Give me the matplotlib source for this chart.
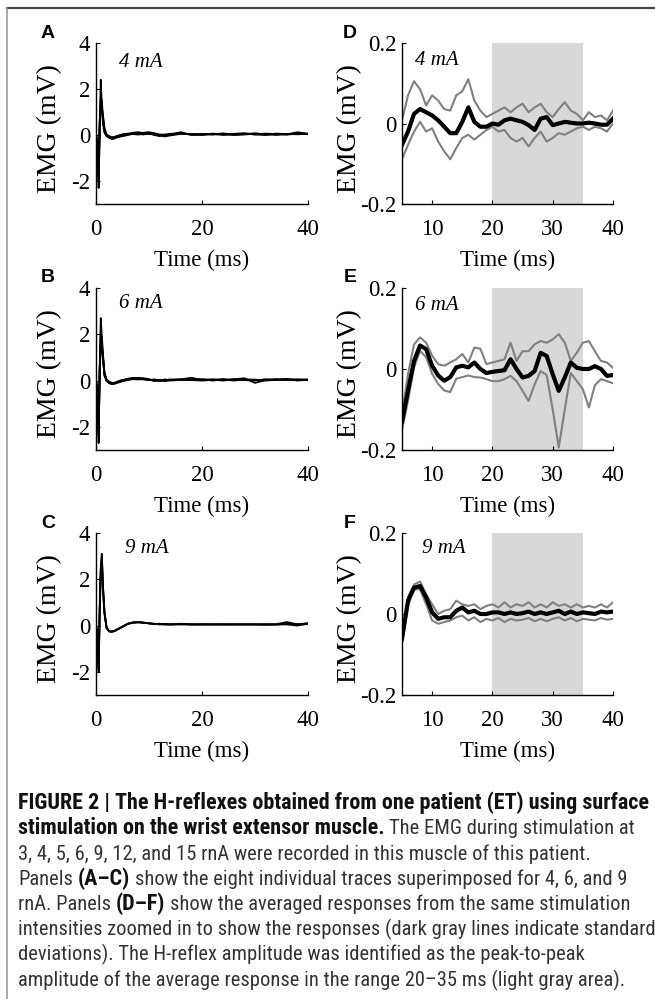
import matplotlib
matplotlib.use("Agg")
import matplotlib.pyplot as plt
from matplotlib import font_manager
from matplotlib.lines import Line2D

plt.rcParams['axes.unicode_minus'] = False

# individual traces (A-C), time in ms
t_left = [0, 0.3, 0.5, 0.7, 0.9, 1.1, 1.3, 1.6, 2.0, 2.5, 3, 3.5, 4, 5, 6, 7, 8, 9,
          10, 11, 12, 13, 14, 16, 18, 20, 22, 24, 26, 28, 30, 32, 34, 36, 38, 40]

traces_4mA = [
    [0, -0.6, -2.3, 0.4, 2.4, 1.3, 0.5, 0.1, -0.05, -0.12, -0.12, -0.1, -0.05, 0.0, 0.05, 0.08, 0.05, 0.02,
     0.08, 0.0, -0.05, 0.0, 0.02, 0.12, 0.0, 0.02, 0.05, 0.0, 0.05, 0.08, 0.02, 0.0, 0.05, 0.02, 0.12, 0.05],
    [0, -0.5, -2.0, 0.3, 1.6, 1.5, 0.8, 0.2, 0.0, -0.08, -0.15, -0.12, -0.08, -0.02, 0.02, 0.1, 0.12, 0.08,
     0.1, 0.05, -0.02, -0.06, -0.02, 0.05, 0.03, 0.0, 0.06, 0.03, 0.0, 0.02, 0.06, 0.04, 0.0, 0.05, 0.03, 0.06],
    [0, -0.4, -1.8, 0.5, 1.3, 1.2, 0.9, 0.3, 0.02, -0.05, -0.1, -0.08, -0.04, 0.03, 0.06, 0.04, 0.02, 0.06,
     0.04, 0.03, 0.0, -0.02, 0.04, 0.06, 0.04, 0.03, 0.02, 0.05, 0.03, 0.05, 0.03, 0.06, 0.04, 0.02, 0.05, 0.04],
    [0, -0.3, -1.5, 0.6, 1.4, 1.1, 0.7, 0.15, -0.03, -0.1, -0.18, -0.15, -0.1, -0.05, 0.0, 0.05, 0.06, 0.1,
     0.12, 0.08, 0.02, 0.02, 0.05, 0.08, 0.02, 0.05, 0.03, 0.07, 0.02, 0.04, 0.07, 0.02, 0.06, 0.04, 0.08, 0.04],
]
traces_6mA = [
    [0, -0.7, -2.7, 0.5, 2.7, 1.8, 0.9, 0.25, 0.0, -0.08, -0.12, -0.1, -0.06, 0.02, 0.08, 0.12, 0.1, 0.05,
     0.03, 0.0, 0.02, 0.0, 0.03, 0.05, 0.12, 0.02, 0.04, 0.0, 0.05, 0.1, -0.1, 0.02, 0.06, 0.04, 0.02, 0.03],
    [0, -0.5, -2.2, 0.4, 2.0, 1.9, 1.2, 0.3, 0.02, -0.1, -0.15, -0.12, -0.08, 0.0, 0.05, 0.08, 0.12, 0.08,
     0.04, 0.02, -0.03, 0.05, 0.0, 0.03, 0.05, 0.06, 0.0, 0.05, 0.03, 0.02, 0.0, 0.06, 0.02, 0.07, 0.0, 0.04],
    [0, -0.4, -1.9, 0.6, 1.5, 1.6, 1.0, 0.35, 0.05, -0.05, -0.1, -0.1, -0.05, 0.03, 0.04, 0.06, 0.05, 0.06,
     0.02, 0.05, 0.0, 0.02, 0.05, 0.02, 0.03, 0.04, 0.05, 0.02, 0.06, 0.03, 0.02, 0.03, 0.05, 0.02, 0.05, 0.02],
    [0, -0.6, -2.4, 0.3, 1.8, 1.4, 1.1, 0.2, -0.02, -0.12, -0.15, -0.14, -0.1, -0.03, 0.02, 0.1, 0.08, 0.1,
     0.06, -0.02, 0.03, -0.03, 0.02, 0.06, 0.02, 0.0, 0.03, 0.06, 0.0, 0.05, 0.04, 0.0, 0.03, 0.06, 0.04, 0.05],
]
traces_9mA = [
    [0, -0.5, -1.9, 0.8, 2.5, 3.1, 1.8, 0.6, -0.1, -0.25, -0.26, -0.24, -0.18, -0.05, 0.08, 0.14, 0.15, 0.12,
     0.1, 0.08, 0.05, 0.06, 0.05, 0.08, 0.05, 0.06, 0.05, 0.05, 0.04, 0.06, 0.05, 0.05, 0.06, 0.15, 0.05, 0.1],
    [0, -0.4, -1.7, 0.6, 2.3, 2.9, 1.6, 0.5, -0.12, -0.26, -0.27, -0.24, -0.17, -0.04, 0.08, 0.13, 0.14, 0.12,
     0.1, 0.06, 0.08, 0.04, 0.06, 0.06, 0.04, 0.05, 0.04, 0.06, 0.05, 0.04, 0.06, 0.03, 0.05, 0.05, 0.0, 0.08],
    [0, -0.45, -2.0, 0.7, 2.4, 3.0, 1.7, 0.55, -0.08, -0.24, -0.25, -0.22, -0.16, -0.06, 0.07, 0.12, 0.14, 0.13,
     0.09, 0.07, 0.06, 0.07, 0.04, 0.05, 0.06, 0.04, 0.06, 0.04, 0.06, 0.05, 0.04, 0.06, 0.04, 0.08, 0.06, 0.09],
]

# averaged responses (D-F) with +/- SD lines
t_right = list(range(5, 41))

mean_4mA = [-0.053, -0.02, 0.024, 0.036, 0.028, 0.02, 0.008, -0.008, -0.024, -0.024, 0.004, 0.04,
            0.004, -0.008, -0.008, 0.0, -0.003, 0.008, 0.012, 0.008, 0.004, -0.004, -0.016, 0.012,
            0.016, -0.004, 0.0, 0.004, 0.002, 0.0, 0.0, 0.002, 0.0, -0.003, -0.003, 0.012]
upper_4mA = [0.008, 0.07, 0.105, 0.085, 0.045, 0.07, 0.057, 0.036, 0.032, 0.07, 0.08, 0.11,
             0.057, 0.032, 0.016, 0.024, 0.032, 0.04, 0.028, 0.04, 0.049, 0.028, 0.04, 0.049,
             0.028, 0.016, 0.036, 0.053, 0.032, 0.024, 0.008, 0.028, 0.016, 0.02, 0.008, 0.032]
lower_4mA = [-0.089, -0.053, -0.02, 0.004, -0.02, -0.012, -0.045, -0.069, -0.089, -0.061, -0.036, -0.028,
             -0.04, -0.028, -0.016, -0.008, -0.02, -0.016, -0.036, -0.045, -0.036, -0.057, -0.036, -0.02,
             -0.045, -0.036, -0.024, -0.028, -0.02, -0.012, -0.008, -0.016, -0.008, -0.012, -0.02, 0.0]

mean_6mA = [-0.13, -0.053, 0.02, 0.058, 0.049, 0.008, -0.016, -0.029, -0.02, 0.004, 0.008, 0.004,
            0.016, 0.0, -0.01, -0.007, -0.005, -0.003, 0.024, 0.0, -0.021, -0.017, -0.005, 0.04,
            0.032, -0.013, -0.054, -0.021, 0.016, 0.003, 0.0, 0.0, 0.007, 0.0, -0.017, -0.015]
upper_6mA = [-0.11, -0.012, 0.061, 0.078, 0.065, 0.033, 0.012, 0.008, 0.016, 0.024, 0.037, 0.016,
             0.053, 0.05, 0.012, 0.016, 0.02, 0.024, 0.065, 0.02, 0.044, 0.044, 0.061, 0.069,
             0.065, 0.073, 0.086, 0.065, 0.02, 0.04, 0.065, 0.069, 0.044, 0.02, 0.016, 0.003]
lower_6mA = [-0.151, -0.078, 0.004, 0.045, 0.029, -0.012, -0.037, -0.053, -0.057, -0.024, -0.02, -0.016,
             -0.02, -0.021, -0.025, -0.03, -0.03, -0.025, -0.017, -0.03, -0.054, -0.079, -0.038, -0.005,
             -0.015, -0.1, -0.194, -0.1, -0.01, -0.03, -0.05, -0.095, -0.04, -0.025, -0.03, -0.035]

mean_9mA = [-0.061, 0.033, 0.065, 0.069, 0.041, 0.004, -0.012, -0.008, -0.008, 0.008, 0.016, 0.004,
            0.008, 0.0, 0.0, 0.004, 0.004, 0.0, 0.004, 0.0, 0.002, 0.006, 0.0, 0.004,
            0.0, 0.004, 0.008, 0.0, 0.006, 0.0, 0.004, 0.002, 0.0, 0.006, 0.004, 0.006]
upper_9mA = [-0.057, 0.041, 0.073, 0.08, 0.049, 0.024, 0.0, 0.008, 0.012, 0.033, 0.024, 0.02,
             0.024, 0.012, 0.02, 0.024, 0.016, 0.029, 0.016, 0.024, 0.02, 0.029, 0.016, 0.024,
             0.016, 0.029, 0.02, 0.024, 0.016, 0.024, 0.016, 0.02, 0.016, 0.024, 0.016, 0.029]
lower_9mA = [-0.073, 0.02, 0.061, 0.061, 0.024, -0.016, -0.024, -0.02, -0.016, -0.008, -0.004, -0.016,
             -0.008, -0.02, -0.012, -0.016, -0.01, -0.02, -0.012, -0.016, -0.014, -0.01, -0.018, -0.012,
             -0.018, -0.012, -0.008, -0.016, -0.01, -0.018, -0.012, -0.014, -0.016, -0.01, -0.014, -0.012]

window = (20, 35)
intensities = ["4 mA", "6 mA", "9 mA"]
letters_left = ["A", "B", "C"]
letters_right = ["D", "E", "F"]

caption = [
    [("FIGURE 2 | The H-reflexes obtained from one patient (ET) using surface", True)],
    [("stimulation on the wrist extensor muscle.", True), ("The EMG during stimulation at", False)],
    [("3, 4, 5, 6, 9, 12, and 15 rnA were recorded in this muscle of this patient.", False)],
    [("Panels", False), ("(A\u2013C)", True), ("show the eight individual traces superimposed for 4, 6, and 9", False)],
    [("rnA. Panels", False), ("(D\u2013F)", True), ("show the averaged responses from the same stimulation", False)],
    [("intensities zoomed in to show the responses (dark gray lines indicate standard", False)],
    [("deviations). The H-reflex amplitude was identified as the peak-to-peak", False)],
    [("amplitude of the average response in the range 20\u201335 ms (light gray area).", False)],
]

W, H = 655, 999
fig = plt.figure(figsize=(W / 100, H / 100), dpi=100)

serif = "Liberation Serif"
avail = {f.name for f in font_manager.fontManager.ttflist}
cap_font = next(n for n in ["Liberation Sans Narrow", "Roboto Condensed", "Liberation Sans", "DejaVu Sans"]
                if n in avail)


def box(left, top, right, bottom):
    return [left / W, 1 - bottom / H, (right - left) / W, (bottom - top) / H]


rows = [(43, 204), (288, 450), (533, 695)]


def style(ax, xticks, yticks, ylab_off):
    for s in ["top", "right"]:
        ax.spines[s].set_visible(False)
    for s in ["left", "bottom"]:
        ax.spines[s].set_linewidth(1.0)
    ax.set_xticks(xticks)
    ax.set_xticklabels(["%g" % v for v in xticks], fontfamily=serif, fontsize=16.5)
    ax.set_yticks(yticks)
    ax.set_yticklabels(["%g" % v for v in yticks], fontfamily=serif, fontsize=16.5)
    ax.tick_params(axis="both", direction="in", length=3, width=0.8)
    ax.tick_params(axis="x", pad=11)
    ax.tick_params(axis="y", pad=4)
    ax.set_xlabel("Time (ms)", fontfamily=serif, fontsize=16.5)
    ax.set_ylabel("EMG (mV)", fontfamily=serif, fontsize=20)
    ax.xaxis.set_label_coords(0.5, -0.285)
    ax.yaxis.set_label_coords(ylab_off, 0.47)


left_data = [traces_4mA, traces_6mA, traces_9mA]
right_data = [(mean_4mA, upper_4mA, lower_4mA),
              (mean_6mA, upper_6mA, lower_6mA),
              (mean_9mA, upper_9mA, lower_9mA)]
label_y_left = [0.88, 0.905, 0.905]
label_y_right = [0.89, 0.895, 0.905]
label_x_left = [0.108, 0.108, 0.137]
label_x_right = [0.062, 0.062, 0.095]

for i, (top, bottom) in enumerate(rows):
    # left column: individual traces
    ax = fig.add_axes(box(96, top, 308, bottom))
    for tr in left_data[i]:
        ax.plot(t_left, tr, color="black", lw=1.3)
    ax.set_xlim(0, 40)
    ax.set_ylim(-3, 4)
    style(ax, [0, 20, 40], [-2, 0, 2, 4], -0.16)
    ax.text(label_x_left[i], label_y_left[i], intensities[i], transform=ax.transAxes,
            fontfamily=serif, fontstyle="italic", fontsize=15, va="center")
    fig.text(48 / W, 1 - (top - 10) / H, letters_left[i], fontfamily="Liberation Sans",
             fontweight="bold", fontsize=14, ha="center", va="center")

    # right column: averages with SD
    ax = fig.add_axes(box(402, top, 613, bottom))
    ax.axvspan(window[0], window[1], color="#d8d8d8", lw=0, zorder=0)
    mean, upper, lower = right_data[i]
    ax.plot(t_right, upper, color="#808080", lw=1.5)
    ax.plot(t_right, lower, color="#808080", lw=1.5)
    ax.plot(t_right, mean, color="black", lw=3)
    ax.set_xlim(5, 40)
    ax.set_ylim(-0.2, 0.2)
    style(ax, [10, 20, 30, 40], [-0.2, 0, 0.2], -0.19)
    ax.text(label_x_right[i], label_y_right[i], intensities[i], transform=ax.transAxes,
            fontfamily=serif, fontstyle="italic", fontsize=15, va="center")
    fig.text(350 / W, 1 - (top - 10) / H, letters_right[i], fontfamily="Liberation Sans",
             fontweight="bold", fontsize=14, ha="center", va="center")

# frame lines of the figure box
fig.add_artist(Line2D([7 / W, 1], [1 - 8 / H, 1 - 8 / H], color="#444444", lw=1.6))
fig.add_artist(Line2D([7 / W, 7 / W], [0, 1 - 8 / H], color="#999999", lw=1.2))

# caption with mixed bold / regular runs
fig.canvas.draw()
renderer = fig.canvas.get_renderer()


def text_width(s, bold, size):
    t = fig.text(0, 0, s, fontsize=size, fontfamily=cap_font,
                 fontweight="bold" if bold else "normal")
    w = t.get_window_extent(renderer).width
    t.remove()
    return w


bold_size = 10 * 630 / text_width(caption[0][0][0], True, 10)
norm_size = 10 * 630 / text_width(caption[5][0][0], False, 10)
size = {True: bold_size, False: norm_size}
space = {b: text_width("a a", b, size[b]) - text_width("aa", b, size[b]) for b in (True, False)}

x0 = 18
for j, line in enumerate(caption):
    x = x0
    base = 809 + j * 25.3
    for k, (s, bold) in enumerate(line):
        if k > 0:
            x += space[bold]
        fig.text(x / W, 1 - base / H, s, fontsize=size[bold], fontfamily=cap_font,
                 fontweight="bold" if bold else "normal", va="baseline",
                 color="#111111" if bold else "#333333")
        x += text_width(s, bold, size[bold])

fig.savefig("out.png", dpi=100)
